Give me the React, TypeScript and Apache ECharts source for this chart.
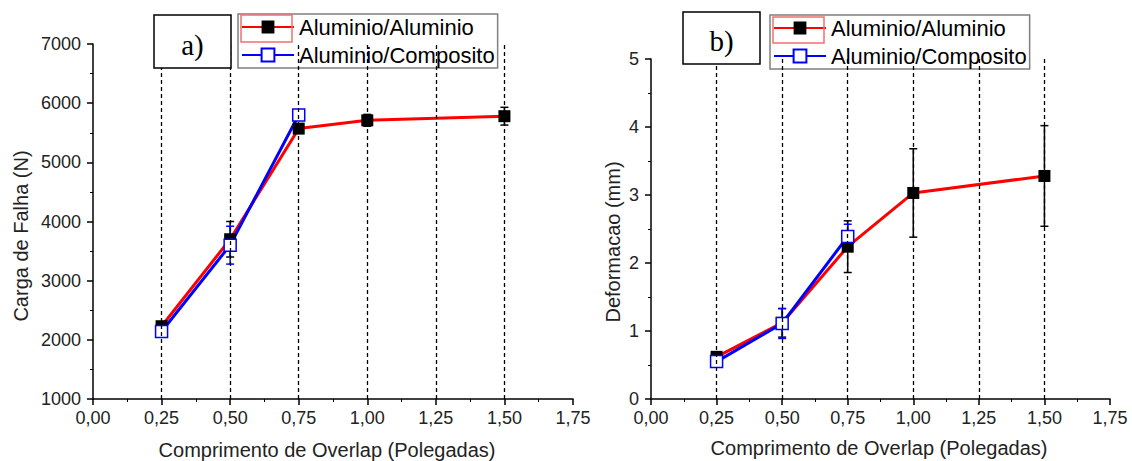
import React, { useEffect, useRef } from "react";
import * as echarts from "echarts";

// ---- data ----
const xAlAl = [0.25, 0.5, 0.75, 1.0, 1.5];
const xAlComp = [0.25, 0.5, 0.75];
const loadAlAl = [2230, 3700, 5570, 5710, 5780];
const loadAlAlErr = [40, 300, 50, 100, 150];
const loadAlComp = [2140, 3600, 5800];
const loadAlCompErr = [50, 320, 50];
const defAlAl = [0.62, 1.12, 2.24, 3.03, 3.28];
const defAlAlErr = [0.05, 0.21, 0.38, 0.65, 0.74];
const defAlComp = [0.55, 1.11, 2.39];
const defAlCompErr = [0.06, 0.22, 0.18];
const guideX = [0.25, 0.5, 0.75, 1.0, 1.25, 1.5];
const nameAlAl = "Aluminio/Aluminio";
const nameAlComp = "Aluminio/Composito";

const FONT = "Liberation Sans, Arial, sans-serif";
const RED = "#ff0000";
const BLUE = "#0000ff";

function pts(xs: number[], ys: number[]) {
  return xs.map((x, i) => [x, ys[i]]);
}
function errPts(xs: number[], ys: number[], es: number[]) {
  return xs.map((x, i) => [x, ys[i], es[i]]);
}

function errorRenderer(color: string) {
  return (params: any, api: any) => {
    const x = api.value(0);
    const y = api.value(1);
    const e = api.value(2);
    const hi = api.coord([x, y + e]);
    const lo = api.coord([x, y - e]);
    const w = 4;
    const st = { stroke: color, lineWidth: 1.5 };
    return {
      type: "group",
      children: [
        { type: "line", shape: { x1: hi[0], y1: hi[1], x2: lo[0], y2: lo[1] }, style: st },
        { type: "line", shape: { x1: hi[0] - w, y1: hi[1], x2: hi[0] + w, y2: hi[1] }, style: st },
        { type: "line", shape: { x1: lo[0] - w, y1: lo[1], x2: lo[0] + w, y2: lo[1] }, style: st },
      ],
    };
  };
}

function xAxisOpt(gridIndex: number) {
  return {
    type: "value",
    gridIndex,
    min: 0,
    max: 1.75,
    interval: 0.25,
    axisLine: { show: true, onZero: false, lineStyle: { color: "#000", width: 1.5 } },
    axisTick: { show: true, length: 6, lineStyle: { color: "#000", width: 1.5 } },
    minorTick: { show: true, splitNumber: 2, length: 3, lineStyle: { color: "#000", width: 1 } },
    splitLine: { show: false },
    axisLabel: {
      color: "#222",
      fontSize: 18,
      fontFamily: FONT,
      margin: 10,
      formatter: (v: number) => v.toFixed(2).replace(".", ","),
    },
  };
}

function yAxisOpt(gridIndex: number, min: number, max: number, interval: number) {
  return {
    type: "value",
    gridIndex,
    min,
    max,
    interval,
    axisLine: { show: true, onZero: false, lineStyle: { color: "#000", width: 1.5 } },
    axisTick: { show: true, length: 6, lineStyle: { color: "#000", width: 1.5 } },
    minorTick: { show: true, splitNumber: 2, length: 3, lineStyle: { color: "#000", width: 1 } },
    splitLine: { show: false },
    axisLabel: {
      color: "#222",
      fontSize: 18,
      fontFamily: FONT,
      margin: 12,
      formatter: (v: number) => String(v),
    },
  };
}

function guideSeries(idx: number) {
  return {
    type: "line",
    xAxisIndex: idx,
    yAxisIndex: idx,
    data: [],
    z: 0,
    silent: true,
    markLine: {
      silent: true,
      symbol: ["none", "none"],
      label: { show: false },
      lineStyle: { color: "#000", type: [4, 3], width: 1.3 },
      data: guideX.map((v) => ({ xAxis: v })),
    },
  };
}

function lineSeries(idx: number, name: string, xs: number[], ys: number[], isBlue: boolean) {
  return {
    type: "line",
    name,
    xAxisIndex: idx,
    yAxisIndex: idx,
    data: pts(xs, ys),
    symbol: "rect",
    symbolSize: 12,
    z: 3,
    lineStyle: { color: isBlue ? BLUE : RED, width: 3 },
    itemStyle: isBlue
      ? { color: "#fff", borderColor: BLUE, borderWidth: 1.5 }
      : { color: "#000", borderColor: "#000", borderWidth: 0 },
  };
}

function errSeries(idx: number, xs: number[], ys: number[], es: number[], color: string) {
  return {
    type: "custom",
    xAxisIndex: idx,
    yAxisIndex: idx,
    data: errPts(xs, ys, es),
    encode: { x: 0, y: 1 },
    z: 2,
    silent: true,
    renderItem: errorRenderer(color),
  };
}

function legendOpt(left: number, top: number) {
  return {
    data: [nameAlAl, nameAlComp],
    orient: "vertical",
    left,
    top,
    itemWidth: 52,
    itemHeight: 16,
    itemGap: 4,
    padding: [1, 3, 1, 3],
    borderColor: "#7f7f7f",
    borderWidth: 1.5,
    backgroundColor: "#fff",
    selectedMode: false,
    textStyle: { fontSize: 22, lineHeight: 24, fontFamily: FONT, color: "#000" },
  };
}

function titleText(text: string, x: number, y: number, rotate: boolean) {
  return {
    type: "text",
    x,
    y,
    rotation: rotate ? Math.PI / 2 : 0,
    z: 10,
    style: {
      text,
      fill: "#222",
      font: `20px ${FONT}`,
      textAlign: "center",
      textVerticalAlign: "middle",
    },
  };
}

function labelBox(label: string, x: number, y: number, w: number, h: number, ty: number) {
  return [
    {
      type: "rect",
      z: 100,
      shape: { x, y, width: w, height: h },
      style: { fill: "#fff", stroke: "#000", lineWidth: 1.5 },
    },
    {
      type: "text",
      z: 101,
      x: x + w / 2,
      y: ty,
      style: {
        text: label,
        fill: "#000",
        font: "29px Liberation Serif, Times New Roman, serif",
        textAlign: "center",
        textVerticalAlign: "middle",
      },
    },
  ];
}

export default function App() {
  const ref = useRef<HTMLDivElement>(null);
  useEffect(() => {
    if (!ref.current) return;
    const chart = echarts.init(ref.current, undefined, { renderer: "svg" });
    chart.setOption({
      animation: false,
      backgroundColor: "#fff",
      grid: [
        { left: 93, right: 559, top: 44, bottom: 62 },
        { left: 651, right: 22, top: 59, bottom: 62 },
      ],
      xAxis: [xAxisOpt(0), xAxisOpt(1)],
      yAxis: [yAxisOpt(0, 1000, 7000, 1000), yAxisOpt(1, 0, 5, 1)],
      legend: [legendOpt(238, 14), legendOpt(770, 15)],
      series: [
        guideSeries(0),
        guideSeries(1),
        errSeries(0, xAlAl, loadAlAl, loadAlAlErr, "#000"),
        lineSeries(0, nameAlAl, xAlAl, loadAlAl, false),
        errSeries(0, xAlComp, loadAlComp, loadAlCompErr, BLUE),
        lineSeries(0, nameAlComp, xAlComp, loadAlComp, true),
        errSeries(1, xAlAl, defAlAl, defAlAlErr, "#000"),
        lineSeries(1, nameAlAl, xAlAl, defAlAl, false),
        errSeries(1, xAlComp, defAlComp, defAlCompErr, BLUE),
        lineSeries(1, nameAlComp, xAlComp, defAlComp, true),
      ],
      graphic: [
        ...labelBox("a)", 154, 15, 77, 53, 45),
        ...labelBox("b)", 683, 12, 77, 52, 41),
        {
          type: "rect",
          z: 100,
          shape: { x: 241, y: 15, width: 51, height: 27 },
          style: { fill: "none", stroke: "#f07070", lineWidth: 1.5 },
        },
        {
          type: "rect",
          z: 100,
          shape: { x: 773, y: 17, width: 51, height: 26 },
          style: { fill: "none", stroke: "#f07070", lineWidth: 1.5 },
        },
        titleText("Carga de Falha (N)", 21, 236, true),
        titleText("Comprimento de Overlap (Polegadas)", 327, 450, false),
        titleText("Deformacao (mm)", 613, 242, true),
        titleText("Comprimento de Overlap (Polegadas)", 879, 448, false),
      ],
    });
    return () => chart.dispose();
  }, []);
  return (
    <div
      ref={ref}
      style={{ position: "fixed", left: 0, top: 0, width: 1132, height: 461, background: "#fff" }}
    />
  );
}
